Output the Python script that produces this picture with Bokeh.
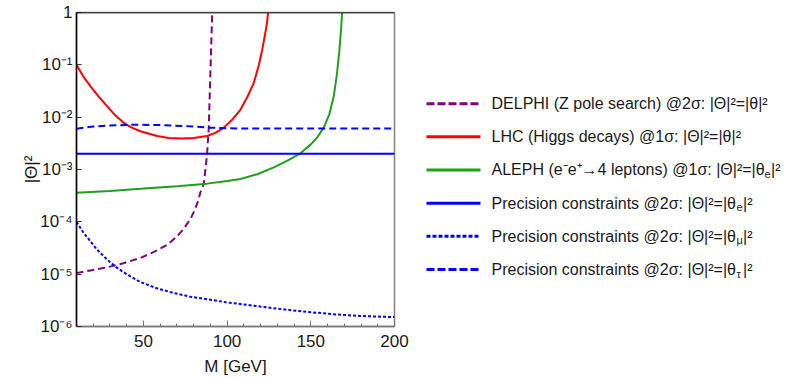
import numpy as np
from bokeh.plotting import figure
from bokeh.models import Range1d, FixedTicker, CustomJSTickFormatter, Span
from bokeh.layouts import row
from bokeh.embed import file_html
from bokeh.resources import INLINE
from bokeh.core.properties import value

# ---------------- data (M in GeV, log10 |Theta|^2) ----------------
delphi_m = [10, 20, 28.3, 38, 48.2, 56, 64.2, 70, 74.1, 78, 80.1, 82.5, 84.1, 86.1, 87.2, 88.05, 89.0, 90.0, 91.1]
delphi_log10 = [-4.98, -4.92, -4.87, -4.79, -4.69, -4.58, -4.44, -4.28, -4.13, -3.95, -3.81, -3.62, -3.43, -3.27, -2.95, -2.69, -2.22, -1.15, 0.0]

lhc_m = [10, 14, 18.4, 23, 28.3, 33, 38.3, 43, 48.2, 58.2, 65, 73, 80, 88, 93, 98, 103, 108, 112, 115.9, 119, 120.9, 122.5, 123.8, 124.5]
lhc_log10 = [-1.0, -1.22, -1.41, -1.6, -1.79, -1.96, -2.11, -2.2, -2.27, -2.36, -2.40, -2.41, -2.40, -2.36, -2.30, -2.20, -2.05, -1.855, -1.62, -1.35, -1.0, -0.72, -0.45, -0.2, 0.0]

aleph_m = [10, 30, 48.2, 70, 88, 100, 108, 118, 127.9, 136, 143.8, 150, 154, 157.7, 161, 163.7, 165.5, 167.1, 168, 168.7]
aleph_log10 = [-3.445, -3.41, -3.37, -3.32, -3.27, -3.22, -3.18, -3.09, -2.96, -2.83, -2.69, -2.52, -2.38, -2.20, -1.95, -1.60, -1.2, -0.72, -0.35, 0.0]

prec_e_m = [10, 200]
prec_e_log10 = [-2.699, -2.699]

prec_mu_m = [10, 14, 18, 22, 26, 30, 34.3, 40, 48.2, 58, 68.1, 78, 88, 100, 117.9, 130, 147.8, 165, 180, 200]
prec_mu_log10 = [-4.0, -4.2, -4.36, -4.52, -4.65, -4.77, -4.88, -5.0, -5.15, -5.27, -5.36, -5.43, -5.48, -5.54, -5.61, -5.66, -5.72, -5.77, -5.80, -5.82]

prec_tau_m = [10, 20, 30, 45, 60, 75, 90, 105, 200]
prec_tau_log10 = [-2.22, -2.18, -2.16, -2.145, -2.15, -2.17, -2.20, -2.215, -2.215]

x_major_ticks = [50, 100, 150, 200]
x_minor_ticks = [20, 30, 40, 60, 70, 80, 90, 110, 120, 130, 140, 160, 170, 180, 190]
y_ticks = [1e-6, 1e-5, 1e-4, 1e-3, 1e-2, 1e-1, 1]

legend_main = [
    "DELPHI (Z pole search) @2σ: |Θ|²=|θ|²",
    "LHC (Higgs decays) @1σ: |Θ|²=|θ|²",
    "ALEPH (e⁻e⁺→4 leptons) @1σ: |Θ|²=|θ",
    "Precision constraints @2σ: |Θ|²=|θ",
    "Precision constraints @2σ: |Θ|²=|θ",
    "Precision constraints @2σ: |Θ|²=|θ",
]
legend_sub = ["", "", "e", "e", "μ", "τ"]
legend_tail = "|²"

# ---------------- styles ----------------
PURPLE = "#800080"
RED = "#ff0000"
GREEN = "#1ea01e"
BLUE = "#0000ff"
FONT = "Liberation Sans"

series = [
    (delphi_m, delphi_log10, PURPLE, "7 4"),
    (lhc_m, lhc_log10, RED, "solid"),
    (aleph_m, aleph_log10, GREEN, "solid"),
    (prec_e_m, prec_e_log10, BLUE, "solid"),
    (prec_mu_m, prec_mu_log10, BLUE, "3 2"),
    (prec_tau_m, prec_tau_log10, BLUE, "7 4"),
]
legend_dash = ["8 3", "solid", "solid", "solid", "4 2", "8 3"]

# layout (page pixels)
W_MAIN, W_LEG, H = 418, 392, 378
B_LEFT, B_RIGHT, B_TOP, B_BOTTOM = 76, 24, 12, 49

# ---------------- main plot ----------------
p = figure(width=W_MAIN, height=H, x_range=Range1d(10, 200), y_range=Range1d(1e-6, 1),
           y_axis_type="log", output_backend="svg", toolbar_location=None,
           min_border_left=B_LEFT, min_border_right=B_RIGHT, min_border_top=B_TOP,
           min_border_bottom=B_BOTTOM)
p.grid.visible = False
p.outline_line_color = "#808080"
p.outline_line_width = 1.5

xa = p.xaxis[0]
xa.ticker = FixedTicker(ticks=x_major_ticks, minor_ticks=x_minor_ticks)
xa.major_tick_in = 6
xa.major_tick_out = 0
xa.minor_tick_in = 3
xa.minor_tick_out = 0
xa.axis_line_color = "#777777"
xa.axis_line_width = 1.5
xa.major_tick_line_color = "#777777"
xa.minor_tick_line_color = "#777777"
xa.major_label_text_font = FONT
xa.major_label_text_font_size = "17px"
xa.major_label_text_color = "#1a1a1a"
xa.major_label_standoff = 8
xa.axis_label = "M [GeV]"
xa.axis_label_text_font = FONT
xa.axis_label_text_font_size = "17px"
xa.axis_label_text_font_style = "normal"
xa.axis_label_text_color = "#1a1a1a"
xa.axis_label_standoff = 7

ya = p.yaxis[0]
ya.ticker = FixedTicker(ticks=y_ticks, minor_ticks=[])
ya.formatter = CustomJSTickFormatter(code="""
const e = Math.round(Math.log10(tick));
if (e === 0) { return "1"; }
const sup = {"-": "\u207b", "0": "\u2070", "1": "\u00b9", "2": "\u00b2", "3": "\u00b3",
             "4": "\u2074", "5": "\u2075", "6": "\u2076", "7": "\u2077", "8": "\u2078", "9": "\u2079"};
let s = "";
for (const c of String(e)) { s += sup[c]; }
return "10" + s;
""")
ya.major_tick_in = 5
ya.major_tick_out = 0
ya.minor_tick_in = 0
ya.minor_tick_out = 0
ya.axis_line_color = "black"
ya.axis_line_width = 1.5
ya.major_tick_line_color = "#333333"
ya.major_label_text_font = FONT
ya.major_label_text_font_size = "17px"
ya.major_label_text_color = "#1a1a1a"
ya.major_label_standoff = 4
ya.axis_label = "|Θ|²"
ya.axis_label_text_font = FONT
ya.axis_label_text_font_size = "17px"
ya.axis_label_text_font_style = "normal"
ya.axis_label_text_color = "#1a1a1a"
ya.axis_label_standoff = -4

p.add_layout(Span(location=1, dimension="width", line_color="black", line_width=1.5))

for m, lg, col, dash in series:
    p.line(m, 10 ** np.array(lg), line_color=col, line_width=2, line_dash=dash)

# ---------------- legend panel (data coords = page pixels) ----------------
leg = figure(width=W_LEG, height=H, x_range=Range1d(W_MAIN, W_MAIN + W_LEG),
             y_range=Range1d(H - B_BOTTOM, B_TOP),
             output_backend="svg", toolbar_location=None,
             min_border_left=0, min_border_right=0, min_border_top=B_TOP, min_border_bottom=B_BOTTOM,
             x_axis_location=None, y_axis_location=None)
leg.grid.visible = False
leg.outline_line_color = None

# approximate Arial / Liberation Sans advance widths (1/1000 em)
W = {" ": 278, "(": 333, ")": 333, "@": 1015, ":": 278, "|": 260, "=": 584, "Θ": 778, "θ": 556,
     "σ": 617, "²": 333, "⁻": 380, "⁺": 380, "→": 820, "i": 222, "l": 222, "t": 278, "r": 333,
     "c": 500, "s": 500, "A": 667, "L": 556, "E": 667, "P": 667, "H": 722}

def text_width(s, size):
    return sum(W.get(ch, 556) for ch in s) * size / 1000.0

FS = 16
SUB_FS = 11
row0, row_step = 104, 33.5
sw_x0, sw_x1, tx0 = 426, 480, 491
for i in range(len(legend_main)):
    y = row0 + i * row_step
    col = series[i][2]
    leg.line([sw_x0, sw_x1], [y, y], line_color=col, line_width=3, line_dash=legend_dash[i])
    leg.text(x=[tx0], y=[y], text=[legend_main[i]], text_font=value(FONT), text_font_size=f"{FS}px",
             text_baseline="middle", text_align="left", text_color="#1a1a1a")
    if legend_sub[i]:
        xs = tx0 + text_width(legend_main[i], FS) + 0.5
        leg.text(x=[xs], y=[y + 4], text=[legend_sub[i]], text_font=value(FONT),
                 text_font_size=f"{SUB_FS}px", text_baseline="middle", text_align="left",
                 text_color="#1a1a1a")
        xt = xs + text_width(legend_sub[i], SUB_FS) + 0.5
        leg.text(x=[xt], y=[y], text=[legend_tail], text_font=value(FONT), text_font_size=f"{FS}px",
                 text_baseline="middle", text_align="left", text_color="#1a1a1a")

layout = row(p, leg)
open("out.html", "w").write(file_html(layout, INLINE))
